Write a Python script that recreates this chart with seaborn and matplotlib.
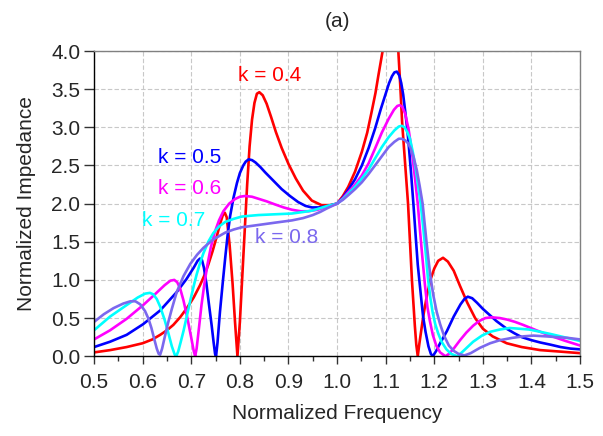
import matplotlib
matplotlib.use("Agg")
import matplotlib.pyplot as plt
import pandas as pd
import seaborn as sns
from matplotlib.ticker import MultipleLocator, FormatStrFormatter

# ---------------- data ----------------
labels = ["k = 0.4", "k = 0.5", "k = 0.6", "k = 0.7", "k = 0.8"]
colors = ["#FF0000", "#0000FF", "#FF00FF", "#00FFFF", "#7B68EE"]

x_k04 = [0.50, 0.533, 0.567, 0.600, 0.620, 0.636, 0.650, 0.663, 0.677, 0.691, 0.705, 0.718,
         0.727, 0.735, 0.744, 0.752, 0.760, 0.765, 0.769, 0.773, 0.779, 0.785, 0.790, 0.795,
         0.800, 0.805, 0.810, 0.815, 0.820, 0.825, 0.830, 0.835, 0.840, 0.847, 0.855, 0.864,
         0.874, 0.886, 0.900, 0.915, 0.930, 0.948, 0.968, 0.985, 1.000, 1.012, 1.023, 1.037,
         1.051, 1.062, 1.071, 1.079, 1.085, 1.091, 1.095, 1.103, 1.110, 1.118, 1.126, 1.130,
         1.134, 1.138, 1.142, 1.146, 1.150, 1.154, 1.157, 1.160, 1.163, 1.166, 1.169, 1.173,
         1.178, 1.185, 1.192, 1.200, 1.208, 1.218, 1.228, 1.240, 1.253, 1.268, 1.284, 1.300,
         1.320, 1.349, 1.380, 1.418, 1.460, 1.500]
y_k04 = [0.05, 0.08, 0.12, 0.17, 0.22, 0.28, 0.34, 0.41, 0.51, 0.63, 0.77, 0.93,
         1.06, 1.20, 1.38, 1.56, 1.75, 1.85, 1.88, 1.82, 1.45, 0.95, 0.45, 0.0,
         0.45, 1.05, 1.65, 2.25, 2.75, 3.10, 3.32, 3.44, 3.46, 3.42, 3.31, 3.14,
         2.94, 2.73, 2.52, 2.33, 2.17, 2.04, 1.98, 1.98, 2.00, 2.10, 2.22, 2.42,
         2.68, 2.93, 3.20, 3.45, 3.68, 3.90, 4.05, 4.40, 4.55, 4.40, 4.00, 3.55,
         3.05, 2.70, 2.35, 2.00, 1.50, 1.00, 0.70, 0.40, 0.15, 0.0, 0.15, 0.33,
         0.55, 0.80, 1.00, 1.15, 1.25, 1.29, 1.24, 1.12, 0.92, 0.70, 0.50, 0.36,
         0.26, 0.17, 0.12, 0.08, 0.06, 0.04]

x_k05 = [0.50, 0.533, 0.567, 0.601, 0.636, 0.670, 0.690, 0.705, 0.713, 0.718, 0.722, 0.726,
         0.731, 0.736, 0.742, 0.746, 0.749, 0.751, 0.754, 0.759, 0.765, 0.770, 0.775, 0.780,
         0.787, 0.794, 0.800, 0.807, 0.812, 0.818, 0.825, 0.832, 0.842, 0.852, 0.869, 0.886,
         0.903, 0.920, 0.935, 0.948, 0.962, 0.975, 0.988, 1.000, 1.012, 1.023, 1.037, 1.051,
         1.065, 1.078, 1.090, 1.099, 1.107, 1.113, 1.118, 1.123, 1.128, 1.132, 1.136, 1.140,
         1.144, 1.147, 1.152, 1.157, 1.162, 1.166, 1.170, 1.174, 1.177, 1.182, 1.188, 1.193,
         1.197, 1.204, 1.212, 1.226, 1.240, 1.254, 1.262, 1.269, 1.278, 1.288, 1.300, 1.314,
         1.328, 1.349, 1.365, 1.380, 1.400, 1.418, 1.440, 1.460, 1.480, 1.500]
y_k05 = [0.12, 0.19, 0.28, 0.42, 0.60, 0.84, 1.01, 1.16, 1.25, 1.28, 1.26, 1.16,
         0.96, 0.70, 0.40, 0.18, 0.03, 0.0, 0.18, 0.58, 0.98, 1.30, 1.60, 1.84,
         2.08, 2.27, 2.40, 2.50, 2.55, 2.58, 2.57, 2.54, 2.48, 2.41, 2.30, 2.19,
         2.10, 2.02, 1.97, 1.95, 1.95, 1.96, 1.98, 2.00, 2.08, 2.18, 2.32, 2.50,
         2.73, 2.98, 3.24, 3.42, 3.58, 3.67, 3.72, 3.73, 3.68, 3.58, 3.43, 3.22,
         3.00, 2.80, 2.42, 2.00, 1.55, 1.20, 0.95, 0.70, 0.52, 0.32, 0.13, 0.03,
         0.0, 0.07, 0.17, 0.33, 0.52, 0.68, 0.75, 0.78, 0.76, 0.70, 0.62, 0.54,
         0.46, 0.36, 0.30, 0.25, 0.21, 0.18, 0.15, 0.12, 0.10, 0.09]

x_k06 = [0.50, 0.533, 0.567, 0.601, 0.625, 0.645, 0.657, 0.665, 0.671, 0.677, 0.684, 0.692,
         0.700, 0.705, 0.708, 0.711, 0.716, 0.721, 0.727, 0.733, 0.740, 0.748, 0.757, 0.766,
         0.778, 0.790, 0.800, 0.811, 0.825, 0.840, 0.855, 0.872, 0.890, 0.907, 0.925, 0.941,
         0.960, 0.975, 0.988, 1.000, 1.012, 1.023, 1.037, 1.051, 1.065, 1.078, 1.092, 1.106,
         1.117, 1.124, 1.129, 1.134, 1.140, 1.147, 1.154, 1.160, 1.166, 1.171, 1.176, 1.181,
         1.186, 1.191, 1.197, 1.204, 1.212, 1.223, 1.230, 1.240, 1.253, 1.266, 1.280, 1.292,
         1.305, 1.318, 1.335, 1.350, 1.366, 1.383, 1.410, 1.438, 1.470, 1.500]
y_k06 = [0.22, 0.34, 0.49, 0.67, 0.81, 0.93, 0.99, 1.00, 0.97, 0.89, 0.73, 0.50,
         0.24, 0.07, 0.0, 0.10, 0.38, 0.67, 0.95, 1.19, 1.42, 1.62, 1.78, 1.90,
         2.00, 2.06, 2.09, 2.10, 2.09, 2.06, 2.03, 1.99, 1.95, 1.92, 1.90, 1.90,
         1.92, 1.95, 1.97, 2.00, 2.07, 2.15, 2.25, 2.37, 2.53, 2.72, 2.93, 3.11,
         3.23, 3.28, 3.29, 3.27, 3.18, 2.98, 2.68, 2.35, 2.00, 1.62, 1.26, 0.92,
         0.64, 0.46, 0.28, 0.14, 0.05, 0.0, 0.03, 0.10, 0.21, 0.31, 0.40, 0.46,
         0.50, 0.51, 0.50, 0.48, 0.45, 0.41, 0.34, 0.27, 0.20, 0.14]

x_k07 = [0.50, 0.533, 0.567, 0.590, 0.605, 0.615, 0.622, 0.629, 0.636, 0.645, 0.653, 0.660,
         0.666, 0.669, 0.673, 0.678, 0.684, 0.691, 0.698, 0.705, 0.711, 0.718, 0.725, 0.735,
         0.745, 0.757, 0.770, 0.787, 0.804, 0.820, 0.838, 0.872, 0.907, 0.930, 0.950, 0.965,
         0.980, 1.000, 1.012, 1.023, 1.037, 1.051, 1.065, 1.078, 1.092, 1.106, 1.118, 1.127,
         1.133, 1.139, 1.145, 1.150, 1.156, 1.162, 1.167, 1.172, 1.177, 1.182, 1.187, 1.192,
         1.197, 1.202, 1.208, 1.215, 1.225, 1.235, 1.247, 1.255, 1.265, 1.280, 1.298, 1.315,
         1.335, 1.355, 1.375, 1.395, 1.418, 1.440, 1.460, 1.480, 1.500]
y_k07 = [0.34, 0.52, 0.67, 0.77, 0.82, 0.83, 0.81, 0.75, 0.65, 0.48, 0.30, 0.13,
         0.02, 0.0, 0.06, 0.18, 0.33, 0.53, 0.73, 0.92, 1.07, 1.22, 1.35, 1.50,
         1.61, 1.70, 1.76, 1.80, 1.83, 1.84, 1.85, 1.86, 1.87, 1.89, 1.91, 1.94,
         1.97, 2.00, 2.06, 2.13, 2.22, 2.33, 2.45, 2.59, 2.74, 2.87, 2.96, 3.01,
         3.02, 3.00, 2.93, 2.85, 2.67, 2.45, 2.22, 2.00, 1.70, 1.38, 1.02, 0.76,
         0.56, 0.42, 0.30, 0.19, 0.09, 0.03, 0.0, 0.04, 0.10, 0.19, 0.27, 0.32,
         0.35, 0.37, 0.36, 0.35, 0.32, 0.29, 0.26, 0.23, 0.20]

x_k08 = [0.50, 0.520, 0.540, 0.560, 0.575, 0.585, 0.595, 0.605, 0.612, 0.618, 0.624, 0.629,
         0.633, 0.636, 0.640, 0.645, 0.652, 0.660, 0.670, 0.684, 0.698, 0.712, 0.725, 0.745,
         0.770, 0.787, 0.804, 0.838, 0.872, 0.907, 0.930, 0.950, 0.965, 0.980, 1.000, 1.012,
         1.023, 1.037, 1.051, 1.065, 1.078, 1.092, 1.106, 1.118, 1.127, 1.133, 1.140, 1.146,
         1.151, 1.157, 1.164, 1.170, 1.176, 1.180, 1.184, 1.188, 1.192, 1.198, 1.205, 1.212,
         1.220, 1.230, 1.240, 1.250, 1.262, 1.275, 1.294, 1.315, 1.335, 1.360, 1.383, 1.404,
         1.430, 1.452, 1.475, 1.500]
y_k08 = [0.45, 0.55, 0.63, 0.69, 0.72, 0.72, 0.68, 0.59, 0.49, 0.37, 0.22, 0.10,
         0.03, 0.02, 0.10, 0.24, 0.43, 0.62, 0.84, 1.05, 1.21, 1.33, 1.42, 1.53,
         1.62, 1.66, 1.69, 1.72, 1.75, 1.78, 1.81, 1.85, 1.89, 1.94, 2.00, 2.05,
         2.11, 2.19, 2.28, 2.39, 2.50, 2.62, 2.74, 2.81, 2.85, 2.85, 2.83, 2.79,
         2.73, 2.62, 2.44, 2.23, 2.00, 1.75, 1.50, 1.27, 1.05, 0.80, 0.58, 0.42,
         0.27, 0.14, 0.07, 0.03, 0.01, 0.04, 0.11, 0.17, 0.21, 0.24, 0.26, 0.27,
         0.26, 0.25, 0.24, 0.22]

xs = [x_k04, x_k05, x_k06, x_k07, x_k08]
ys = [y_k04, y_k05, y_k06, y_k07, y_k08]

# label anchor positions (data coords, left/center)
label_x = [0.797, 0.632, 0.632, 0.599, 0.831]
label_y = [3.68, 2.61, 2.20, 1.78, 1.56]

x_ticks = [0.5, 0.6, 0.7, 0.8, 0.9, 1.0, 1.1, 1.2, 1.3, 1.4, 1.5]
y_ticks = [0.0, 0.5, 1.0, 1.5, 2.0, 2.5, 3.0, 3.5, 4.0]

# ---------------- build long table ----------------
frames = []
for lab, x, y in zip(labels, xs, ys):
    frames.append(pd.DataFrame({"f": x, "z": y, "k": lab}))
df = pd.concat(frames, ignore_index=True)

sns.set_style("ticks")
plt.rcParams["font.family"] = ["Liberation Sans", "DejaVu Sans"]

fig = plt.figure(figsize=(6.03, 4.36), dpi=100)
ax = fig.add_axes([0.156, 0.183, 0.806, 0.700])

sns.lineplot(data=df, x="f", y="z", hue="k", palette=dict(zip(labels, colors)),
             sort=False, estimator=None, units="k", legend=False, linewidth=1.9, ax=ax)
for ln in ax.get_lines():
    ln.set_solid_joinstyle("round")

for lab, c, tx, ty in zip(labels, colors, label_x, label_y):
    ax.text(tx, ty, lab, color=c, fontsize=15, ha="left", va="center")

ax.set_xlim(0.5, 1.5)
ax.set_ylim(0.0, 4.0)
ax.set_xticks(x_ticks)
ax.set_yticks(y_ticks)
ax.xaxis.set_minor_locator(MultipleLocator(0.05))
ax.xaxis.set_major_formatter(FormatStrFormatter("%.1f"))
ax.yaxis.set_major_formatter(FormatStrFormatter("%.1f"))

ax.grid(True, which="major", color="#C8C8C8", linestyle=(0, (4, 2)), linewidth=0.8)
ax.set_axisbelow(True)

ax.tick_params(axis="x", which="major", direction="out", length=6, width=1.0,
               labelsize=15, pad=6, color="#333333")
ax.tick_params(axis="x", which="minor", direction="out", length=3.5, width=1.0, color="#333333")
ax.tick_params(axis="y", which="major", direction="out", length=7, width=1.0,
               labelsize=15, pad=3, color="#333333")

for s in ["left", "bottom"]:
    ax.spines[s].set_color("#000000")
    ax.spines[s].set_linewidth(1.0)
for s in ["top", "right"]:
    ax.spines[s].set_visible(True)
    ax.spines[s].set_color("#808080")
    ax.spines[s].set_linewidth(1.0)

ax.set_xlabel("Normalized Frequency", fontsize=15, labelpad=9)
ax.set_ylabel("Normalized Impedance", fontsize=15, labelpad=11)
ax.set_title("(a)", fontsize=15, pad=17)

fig.savefig("out.png", dpi=100)
